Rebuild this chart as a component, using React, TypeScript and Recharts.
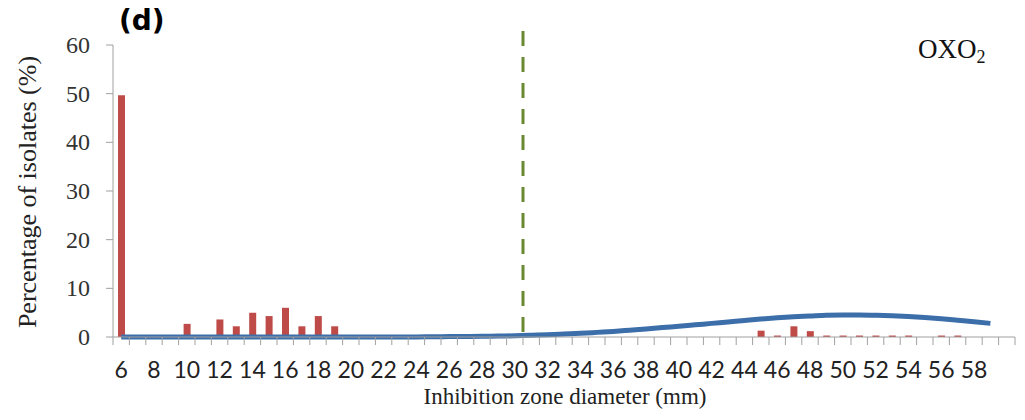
import React from 'react';
import { ComposedChart, Bar, Line, XAxis, YAxis, ReferenceLine } from 'recharts';

// inhibition zone diameters (mm), one category each
const diameters = [
  6, 7, 8, 9, 10, 11, 12, 13, 14, 15, 16, 17, 18, 19, 20, 21, 22, 23, 24, 25, 26, 27, 28, 29, 30,
  31, 32, 33, 34, 35, 36, 37, 38, 39, 40, 41, 42, 43, 44, 45, 46, 47, 48, 49, 50, 51, 52, 53, 54,
  55, 56, 57, 58, 59, 60,
];

// % of isolates per diameter (red bars)
const isolatePct = [
  49.7, 0, 0, 0, 2.7, 0, 3.6, 2.2, 5.0, 4.3, 6.0, 2.2, 4.3, 2.2, 0, 0, 0, 0, 0, 0, 0, 0, 0, 0, 0,
  0, 0, 0, 0, 0, 0, 0, 0, 0, 0, 0, 0, 0, 0, 1.3, 0.3, 2.2, 1.2, 0.3, 0.3, 0.3, 0.3, 0.3, 0.3,
  0, 0.3, 0.3, 0, 0, 0,
];

// fitted distribution (blue curve)
const fitCurve = [
  0, 0, 0, 0, 0, 0, 0, 0, 0, 0, 0, 0, 0, 0, 0, 0, 0, 0, 0, 0.05, 0.08, 0.1, 0.15, 0.2, 0.25,
  0.35, 0.45, 0.6, 0.75, 0.95, 1.15, 1.4, 1.65, 1.95, 2.2, 2.5, 2.8, 3.1, 3.4, 3.7, 3.95, 4.15, 4.3, 4.45,
  4.5, 4.5, 4.45, 4.35, 4.2, 4.0, 3.75, 3.45, 3.15, 2.8, null,
];

const xTickLabels = [6, 8, 10, 12, 14, 16, 18, 20, 22, 24, 26, 28, 30, 32, 34, 36, 38, 40, 42, 44, 46, 48, 50, 52, 54, 56, 58];
const yTicks = [0, 10, 20, 30, 40, 50, 60];
const breakpoint = 30;

const data = diameters.map((d, i) => ({ d, pct: isolatePct[i], fit: fitCurve[i] }));

const W = 1025;
const H = 420;
const margin = { top: 45, right: 10, bottom: 53, left: 0 };
const Y_W = 113;
const BW = (W - margin.left - margin.right - Y_W) / diameters.length;
const axisGray = '#a0a0a0';

const XTick = (props: any) => {
  const { x, y, payload, index } = props;
  const left = x - BW / 2;
  const showLabel = xTickLabels.includes(payload.value);
  return (
    <g>
      <line x1={left} x2={left} y1={y} y2={y + 8} stroke={axisGray} strokeWidth={1} />
      {index === diameters.length - 1 && (
        <line x1={x + BW / 2} x2={x + BW / 2} y1={y} y2={y + 8} stroke={axisGray} strokeWidth={1} />
      )}
      {showLabel && (
        <text x={x} y={y + 41} textAnchor="middle" style={{ fontFamily: 'Lato', fontSize: 23 }} fill="#222">
          {payload.value}
        </text>
      )}
    </g>
  );
};

// y tick: short outward mark plus serif label
const YTick = (props: any) => {
  const { y, payload } = props;
  return (
    <g>
      <line x1={Y_W - 7} x2={Y_W} y1={y} y2={y} stroke={axisGray} strokeWidth={1} />
      <text x={Y_W - 23} y={y + 8} textAnchor="end" fontFamily="Liberation Serif" fontSize={24} fill="#333">
        {payload.value}
      </text>
    </g>
  );
};

const DashShape = (p: any) => (
  <line
    x1={p.x1}
    x2={p.x2}
    y1={Math.min(p.y1, p.y2) - 14}
    y2={Math.max(p.y1, p.y2)}
    stroke="#6a8a32"
    strokeWidth={3}
    strokeDasharray="15 11"
  />
);

export default function App() {
  return (
    <div style={{ position: 'absolute', left: 0, top: 0, width: W, height: H, background: '#fff' }}>
      <ComposedChart width={W} height={H} data={data} margin={margin}>
        <XAxis
          dataKey="d"
          interval={0}
          tickSize={0}
          tickMargin={0}
          tickLine={false}
          tick={<XTick />}
          stroke={axisGray}
          height={30}
        />
        <YAxis
          domain={[0, 60]}
          ticks={yTicks}
          width={Y_W}
          tickLine={false}
          stroke={axisGray}
          tick={YTick}
        />
        <Bar dataKey="pct" fill="#be4b48" barSize={7} isAnimationActive={false} />
        <Line
          type="monotone"
          dataKey="fit"
          stroke="#3c6eaa"
          strokeWidth={5}
          dot={false}
          activeDot={false}
          isAnimationActive={false}
        />
        <ReferenceLine x={breakpoint} position="end" shape={<DashShape />} />
      </ComposedChart>

      <div style={{ position: 'absolute', left: 119, top: 7, fontFamily: 'DejaVu Sans', fontWeight: 'bold', fontSize: 28, lineHeight: 1 }}>
        (d)
      </div>
      <div style={{ position: 'absolute', left: 918, top: 36, fontFamily: 'Liberation Serif', fontSize: 27, lineHeight: 1, color: '#111' }}>
        OXO<span style={{ fontSize: 18, verticalAlign: '-5px' }}>2</span>
      </div>
      <div
        style={{
          position: 'absolute',
          left: 565,
          top: 385,
          transform: 'translateX(-50%)',
          whiteSpace: 'nowrap',
          fontFamily: 'Liberation Serif',
          fontSize: 23,
          lineHeight: 1,
          color: '#222',
        }}
      >
        Inhibition zone diameter (mm)
      </div>
      <div
        style={{
          position: 'absolute',
          left: 28,
          top: 192,
          transform: 'translate(-50%, -50%) rotate(-90deg)',
          whiteSpace: 'nowrap',
          fontFamily: 'Liberation Serif',
          fontSize: 26,
          lineHeight: 1,
          color: '#222',
        }}
      >
        Percentage of isolates (%)
      </div>
    </div>
  );
}
